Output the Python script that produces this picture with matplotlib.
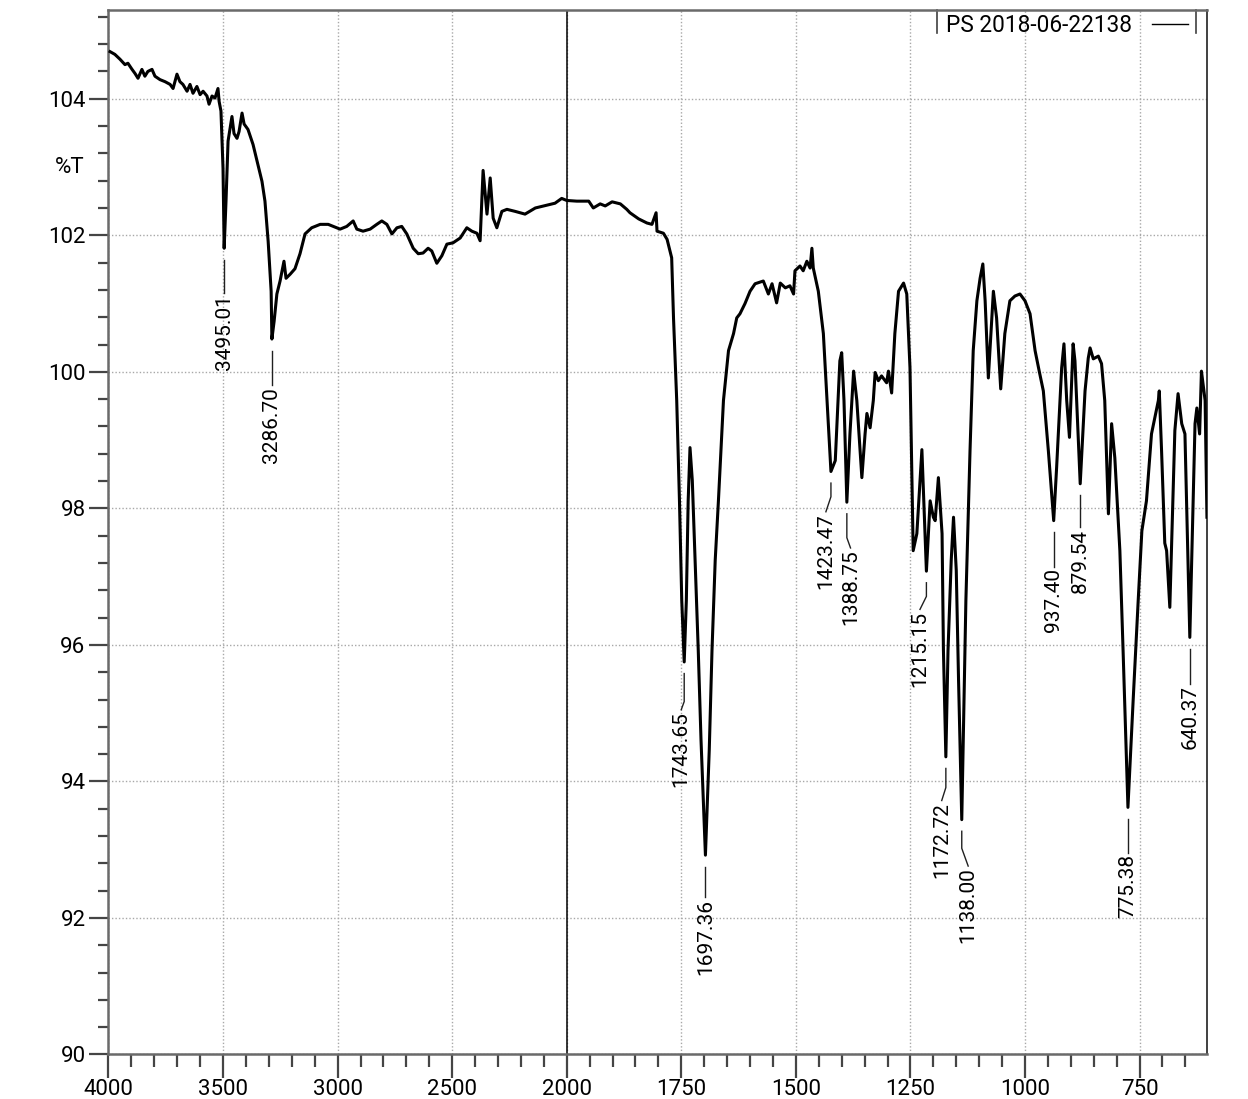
import numpy as np
import matplotlib.pyplot as plt
from matplotlib.lines import Line2D

plt.rcParams['font.family'] = ['Roboto', 'DejaVu Sans']

# IR spectrum, wavenumber (cm-1) vs %T
wn = [3993, 3972, 3950, 3928, 3915, 3897, 3884, 3871, 3854, 3841, 3828, 3810, 3797,
      3775, 3753, 3731, 3718, 3701, 3688, 3675, 3657, 3644, 3631, 3614, 3600, 3587,
      3570, 3561, 3548, 3535, 3522, 3517, 3509, 3500, 3495.01, 3487, 3478, 3469, 3461,
      3452, 3439, 3430, 3417, 3408, 3391, 3369, 3351, 3330, 3317, 3303, 3290, 3286.70,
      3277, 3265, 3251, 3234, 3225, 3207, 3186, 3164, 3142, 3113, 3076, 3041, 3003,
      2989, 2960, 2932, 2916, 2889, 2858, 2829, 2807, 2785, 2763, 2741, 2720, 2698,
      2670, 2648, 2627, 2605, 2589, 2567, 2545, 2523, 2496, 2465, 2436, 2414, 2392,
      2378, 2365, 2348, 2334, 2321, 2305, 2283, 2261, 2225, 2182, 2137, 2088, 2051,
      2022, 2000, 1978, 1952, 1942, 1927, 1916, 1901, 1883, 1869, 1862, 1843, 1825,
      1814, 1805, 1803, 1789, 1781, 1771, 1767, 1760, 1754, 1749, 1743.65, 1739, 1735,
      1731, 1726, 1720, 1713, 1707, 1697.36, 1689, 1683, 1676, 1669, 1658, 1647, 1636,
      1629, 1622, 1611, 1600, 1589, 1571, 1560, 1552, 1542, 1534, 1523, 1513, 1505,
      1502, 1491, 1484, 1476, 1469, 1465, 1462, 1451, 1440, 1432, 1423.47, 1414, 1404,
      1400, 1395, 1388.75, 1382, 1374, 1367, 1356, 1349, 1345, 1338, 1331, 1327, 1320,
      1313, 1302, 1298, 1291, 1284, 1276, 1265, 1258, 1251, 1244, 1236, 1225, 1215.15,
      1207, 1200, 1196, 1189, 1181, 1178, 1172.72, 1168, 1161, 1156, 1150, 1145,
      1138.00, 1133, 1129, 1120, 1113, 1105, 1098, 1092, 1087, 1080, 1069, 1062, 1053,
      1044, 1033, 1022, 1011, 1000, 993, 989, 978, 969, 960, 949, 937.40, 931, 920,
      915, 909, 903, 896, 895, 891, 879.54, 869, 862, 858, 851, 840, 833, 826, 818,
      811, 804, 793, 786, 775.38, 764, 753, 745, 735, 724, 709, 707, 702, 695, 691,
      684, 673, 666, 658, 651, 640.37, 629, 625, 619, 615, 607, 603]
pct_t = [104.69, 104.65, 104.58, 104.50, 104.52, 104.43, 104.37, 104.30, 104.43, 104.33,
         104.40, 104.43, 104.33, 104.28, 104.25, 104.21, 104.15, 104.36, 104.25, 104.21,
         104.11, 104.21, 104.08, 104.18, 104.06, 104.11, 104.04, 103.92, 104.04, 104.01,
         104.15, 103.96, 103.82, 102.98, 101.81, 102.50, 103.38, 103.57, 103.74, 103.49,
         103.42, 103.52, 103.79, 103.63, 103.55, 103.33, 103.08, 102.79, 102.50, 101.91,
         101.18, 100.48, 100.74, 101.14, 101.33, 101.62, 101.37, 101.43, 101.51, 101.73,
         102.02, 102.11, 102.16, 102.16, 102.11, 102.09, 102.13, 102.21, 102.09, 102.06,
         102.09, 102.16, 102.21, 102.16, 102.02, 102.11, 102.13, 102.02, 101.81, 101.73,
         101.74, 101.81, 101.77, 101.59, 101.70, 101.87, 101.89, 101.96, 102.11, 102.06,
         102.03, 101.92, 102.95, 102.31, 102.84, 102.25, 102.11, 102.35, 102.38, 102.35,
         102.31, 102.40, 102.44, 102.47, 102.54, 102.51, 102.50, 102.50, 102.40, 102.46,
         102.43, 102.49, 102.46, 102.38, 102.33, 102.24, 102.18, 102.16, 102.33, 102.06,
         102.03, 101.94, 101.67, 100.79, 99.58, 98.11, 96.65, 95.75, 96.65, 98.11,
         98.89, 98.41, 97.24, 95.92, 94.61, 92.92, 94.46, 95.92, 97.24, 98.11,
         99.58, 100.31, 100.56, 100.79, 100.85, 101.00, 101.18, 101.29, 101.33, 101.14,
         101.29, 101.01, 101.30, 101.23, 101.26, 101.14, 101.48, 101.55, 101.48, 101.62,
         101.52, 101.81, 101.52, 101.18, 100.56, 99.58, 98.54, 98.70, 100.16, 100.28,
         99.58, 98.09, 99.09, 100.01, 99.58, 98.45, 99.09, 99.39, 99.18, 99.58,
         99.99, 99.87, 99.94, 99.84, 100.01, 99.69, 100.56, 101.18, 101.30, 101.14,
         100.06, 97.38, 97.63, 98.86, 97.08, 98.11, 97.87, 97.82, 98.45, 97.63,
         95.92, 94.36, 95.92, 97.24, 97.87, 97.09, 95.48, 93.44, 95.19, 96.65,
         98.84, 100.31, 101.04, 101.37, 101.58, 101.04, 99.91, 101.18, 100.79, 99.75,
         100.56, 101.04, 101.11, 101.14, 101.04, 100.92, 100.85, 100.31, 100.01, 99.72,
         98.84, 97.82, 98.60, 100.06, 100.41, 99.58, 99.04, 100.26, 100.41, 100.16,
         98.36, 99.72, 100.20, 100.35, 100.19, 100.23, 100.12, 99.58, 97.92, 99.24,
         98.74, 97.38, 95.92, 93.62, 95.19, 96.65, 97.67, 98.11, 99.09, 99.58,
         99.72, 98.84, 97.49, 97.38, 96.55, 99.14, 99.68, 99.24, 99.09, 96.11,
         99.24, 99.47, 99.09, 100.01, 99.58, 97.87]

peak_wn = [3495.01, 3286.70, 1743.65, 1697.36, 1423.47, 1388.75, 1215.15,
           1172.72, 1138.00, 937.40, 879.54, 775.38, 640.37]

sample_name = 'PS 2018-06-22138'

x_major = [4000, 3500, 3000, 2500, 2000, 1750, 1500, 1250, 1000, 750]
y_major = [90, 92, 94, 96, 98, 100, 102, 104]

# peak leaders: straight drop, kinked drop (both in %T), sideways shift of the label (cm-1)
lead_len = [0.48, 0.51, 0.41, 0.45, 0.20, 0.35, 0.20, 0.28, 0.25, 0.51, 0.47, 0.50, 0.51]
kink_len = [0.0, 0.0, 0.12, 0.0, 0.22, 0.15, 0.19, 0.19, 0.26, 0.0, 0.0, 0.0, 0.0]
kink_dw = [0, 0, 6.5, 0, 11, -8, 14, 9, -14, 0, 0, 0, 0]


# below 2000 cm-1 the axis is stretched 2x
def _fwd(w):
    w = np.asarray(w, dtype=float)
    return np.where(w > 2000, 2000 + (w - 2000) / 2, w)


def _inv(p):
    p = np.asarray(p, dtype=float)
    return np.where(p > 2000, 2000 + (p - 2000) * 2, p)


fig = plt.figure(figsize=(12.48, 10.99), dpi=100)
ax = fig.add_axes([0.0869, 0.0405, 0.8802, 0.9504])
ax.set_xscale('function', functions=(_fwd, _inv))

ax.plot(wn, pct_t, color='black', lw=2.2, solid_joinstyle='round', zorder=3)
ax.axvline(2000, color='black', lw=1.1, zorder=2)

ax.set_xlim(4000, 603)
ax.set_ylim(90, 105.3)

# peak labels
peak_t = np.interp(peak_wn, wn[::-1], pct_t[::-1])
gap = 0.17
for w, t, L, K, dw in zip(peak_wn, peak_t, lead_len, kink_len, kink_dw):
    y1 = t - gap
    y2 = y1 - L
    y3 = y2 - K
    ax.plot([w, w, w + dw], [y1, y2, y3], color='#202020', lw=1.0, zorder=3)
    ax.text(w + dw, y3 - 0.02, f'{w:.2f}', rotation=90, ha='center', va='top',
            fontsize=15, zorder=4)

# axes, ticks, grid
ax.set_xticks(x_major, labels=[str(v) for v in x_major])
x_minor = [w for w in range(4000, 2000, -100) if w % 500] + \
          [w for w in range(2000, 603, -50) if w % 250]
ax.set_xticks(x_minor, minor=True)
ax.set_yticks(y_major, labels=[str(v) for v in y_major])
ax.set_yticks(np.round(np.arange(90, 105.3, 0.4), 1), minor=True)

ax.tick_params(which='both', direction='out', width=1.6, color='#454545', labelsize=16)
ax.tick_params(axis='x', which='major', length=17, pad=1)
ax.tick_params(axis='x', which='minor', length=9)
ax.tick_params(axis='y', which='major', length=13.5, pad=3)
ax.tick_params(axis='y', which='minor', length=7)
ax.grid(True, which='major', color='#a8a8a8', ls=(0, (1, 1.5)), lw=1.0, zorder=0)

for side in ['left', 'bottom', 'top']:
    ax.spines[side].set_color('#6a6a6a')
    ax.spines[side].set_linewidth(1.8)
ax.spines['right'].set_color('#202020')
ax.spines['right'].set_linewidth(1.2)

ax.text(-0.035, 103, '%T', transform=ax.get_yaxis_transform(), ha='center',
        va='center', fontsize=16)

# legend with the sample line after the name, bracketed by two bars
ax.legend(handles=[Line2D([0], [0], color='black', lw=1.0)], labels=[sample_name],
          loc='upper right', bbox_to_anchor=(0.983, 0.996), markerfirst=False,
          frameon=False, fontsize=16.3, handlelength=1.6, handletextpad=0.9,
          borderpad=0.0, borderaxespad=0.0)
for xb in [0.7543, 0.990]:
    ax.plot([xb, xb], [1.0, 0.978], transform=ax.transAxes, color='#404040', lw=1.2,
            clip_on=False)

fig.savefig('out.png', dpi=100)
